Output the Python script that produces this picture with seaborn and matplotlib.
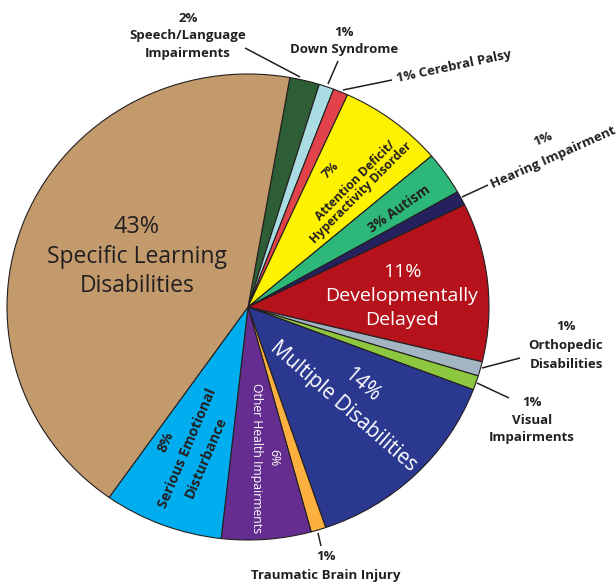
import matplotlib
matplotlib.use('Agg')
import matplotlib.pyplot as plt
import seaborn as sns

sns.set_theme(style='white')
plt.rcParams['font.family'] = ['Open Sans', 'DejaVu Sans']

# categories in clockwise order, starting just right of the top
categories = ['Speech/Language Impairments', 'Down Syndrome', 'Cerebral Palsy',
              'Attention Deficit/Hyperactivity Disorder', 'Autism', 'Hearing Impairment',
              'Developmentally Delayed', 'Orthopedic Disabilities', 'Visual Impairments',
              'Multiple Disabilities', 'Traumatic Brain Injury', 'Other Health Impairments',
              'Serious Emotional Disturbance', 'Specific Learning Disabilities']
percent = [2, 1, 1, 7, 3, 1, 11, 1, 1, 14, 1, 6, 8, 43]
colors = ['#2d5e35', '#a9dde3', '#e2434a', '#fff200', '#2db87a', '#24215e',
          '#b5121b', '#a3b4c2', '#8dc63f', '#2b388f', '#fbb040', '#662d91',
          '#00aeef', '#c29a6c']

ink = '#231f20'

fig = plt.figure(figsize=(6.16, 5.85), dpi=100)

# pie axes (slightly wider than tall, like the original)
cx, cy, rx, ry = 248, 307, 241, 233
pax = fig.add_axes([(cx - rx) / 616, (585 - cy - ry) / 585, 2 * rx / 616, 2 * ry / 585])
pax.pie(percent, colors=colors, startangle=80, counterclock=False, radius=1,
        wedgeprops=dict(edgecolor=ink, linewidth=0.8))
pax.set_xlim(-1, 1)
pax.set_ylim(-1, 1)
pax.set_aspect('auto')
pax.axis('off')

# overlay in pixel coordinates for the labels
ax = fig.add_axes([0, 0, 1, 1])
ax.set_xlim(0, 616)
ax.set_ylim(585, 0)
ax.axis('off')
ax.patch.set_alpha(0)


def txt(x, y, s, size, rot=0, color=ink, weight='normal'):
    ax.text(x, y, s, fontsize=size, rotation=rot, color=color, weight=weight,
            ha='center', va='center', rotation_mode='anchor')


def lead(x0, y0, x1, y1):
    ax.plot([x0, x1], [y0, y1], color=ink, lw=1.1, solid_capstyle='butt')


# inside labels
txt(137, 227, '43%', 16.8)
txt(137, 257, 'Specific Learning', 16.5)
txt(137, 286, 'Disabilities', 16.5)

txt(402, 272, '11%', 14, color='white')
txt(402, 296, 'Developmentally', 14, color='white')
txt(402, 320, 'Delayed', 14, color='white')

txt(362, 385, '14%', 14.8, rot=-41, color='white')
txt(343, 406, 'Multiple Disabilities', 14.8, rot=-41, color='white')

txt(274, 458, '6%', 8.8, rot=-90, color='white')
txt(256, 458, 'Other Health Impairments', 8.8, rot=-90, color='white')

txt(166, 442, '8%', 10.3, rot=67, weight='bold')
txt(187, 448, 'Serious Emotional', 10.3, rot=67, weight='bold')
txt(206, 457, 'Disturbance', 10.3, rot=67, weight='bold')

txt(331, 170, '7%', 8.8, rot=45, weight='bold')
txt(355, 181, 'Attention Deficit/', 8.8, rot=45, weight='bold')
txt(361, 193, 'Hyperactivity Disorder', 8.8, rot=45, weight='bold')

txt(399, 209, '3% Autism', 9.8, rot=35, weight='bold')

# outside labels
txt(188, 18, '2%', 9.5, weight='bold')
txt(188, 36, 'Speech/Language', 9.5, weight='bold')
txt(188, 54, 'Impairments', 9.5, weight='bold')
lead(245, 48, 300, 77)

txt(344, 32, '1%', 9.5, weight='bold')
txt(344, 49, 'Down Syndrome', 9.5, weight='bold')
lead(338, 61, 328, 84)

txt(454, 66, '1% Cerebral Palsy', 9.5, rot=12, weight='bold')
lead(343, 90, 392, 80)

txt(543, 139, '1%', 9.5, rot=22, weight='bold')
txt(553, 158, 'Hearing Impairment', 9.5, rot=24, weight='bold')
lead(462, 197, 488, 185)

txt(566, 327, '1%', 9.5, weight='bold')
txt(566, 346, 'Orthopedic', 9.5, weight='bold')
txt(566, 364, 'Disabilities', 9.5, weight='bold')
lead(482, 368, 520, 358)

txt(532, 402, '1%', 9.5, weight='bold')
txt(532, 420, 'Visual', 9.5, weight='bold')
txt(532, 438, 'Impairments', 9.5, weight='bold')
lead(477, 383, 509, 398)

txt(326, 557, '1%', 9.5, weight='bold')
txt(326, 575, 'Traumatic Brain Injury', 9.5, weight='bold')
lead(318, 533, 321, 546)

fig.savefig('out.png', dpi=100)
